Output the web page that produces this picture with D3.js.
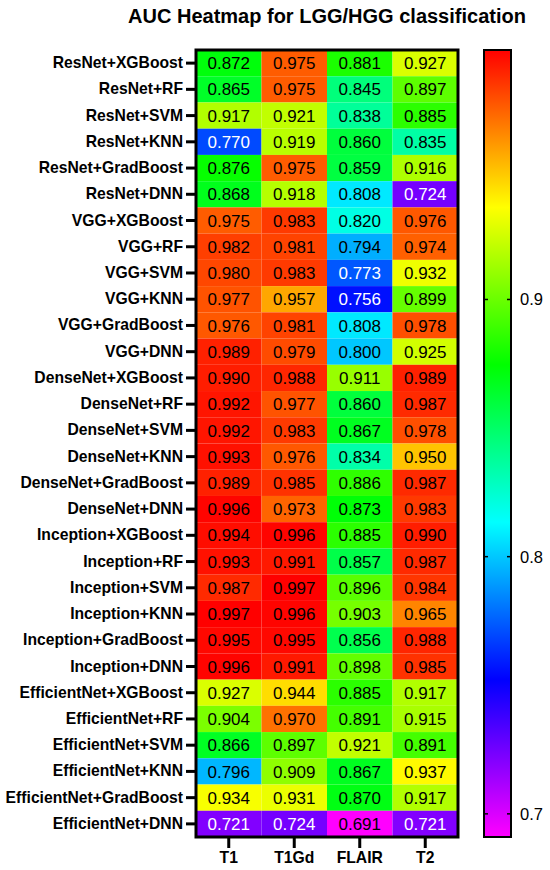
<!DOCTYPE html>
<html lang="en">
  <head>
    <meta charset="UTF-8" />
    <title>AUC Heatmap for LGG/HGG classification</title>
    <script src="https://d3js.org/d3.v7.min.js"></script>
    <style>
      body {
        margin: 0;
        background: #fff;
        font-family: "Liberation Sans", Arial, sans-serif;
      }
    </style>
  </head>
  <body>
    <div id="chart"></div>
    <script>
      // row and column labels
      const models = [
        "ResNet+XGBoost", "ResNet+RF", "ResNet+SVM", "ResNet+KNN", "ResNet+GradBoost", "ResNet+DNN",
        "VGG+XGBoost", "VGG+RF", "VGG+SVM", "VGG+KNN", "VGG+GradBoost", "VGG+DNN",
        "DenseNet+XGBoost", "DenseNet+RF", "DenseNet+SVM", "DenseNet+KNN", "DenseNet+GradBoost", "DenseNet+DNN",
        "Inception+XGBoost", "Inception+RF", "Inception+SVM", "Inception+KNN", "Inception+GradBoost", "Inception+DNN",
        "EfficientNet+XGBoost", "EfficientNet+RF", "EfficientNet+SVM", "EfficientNet+KNN", "EfficientNet+GradBoost", "EfficientNet+DNN"
      ];
      const sequences = ["T1", "T1Gd", "FLAIR", "T2"];

      // AUC per sequence, in the same order as models
      const aucT1 = [
        0.872, 0.865, 0.917, 0.770, 0.876, 0.868,
        0.975, 0.982, 0.980, 0.977, 0.976, 0.989,
        0.990, 0.992, 0.992, 0.993, 0.989, 0.996,
        0.994, 0.993, 0.987, 0.997, 0.995, 0.996,
        0.927, 0.904, 0.866, 0.796, 0.934, 0.721
      ];
      const aucT1Gd = [
        0.975, 0.975, 0.921, 0.919, 0.975, 0.918,
        0.983, 0.981, 0.983, 0.957, 0.981, 0.979,
        0.988, 0.977, 0.983, 0.976, 0.985, 0.973,
        0.996, 0.991, 0.997, 0.996, 0.995, 0.991,
        0.944, 0.970, 0.897, 0.909, 0.931, 0.724
      ];
      const aucFlair = [
        0.881, 0.845, 0.838, 0.860, 0.859, 0.808,
        0.820, 0.794, 0.773, 0.756, 0.808, 0.800,
        0.911, 0.860, 0.867, 0.834, 0.886, 0.873,
        0.885, 0.857, 0.896, 0.903, 0.856, 0.898,
        0.885, 0.891, 0.921, 0.867, 0.870, 0.691
      ];
      const aucT2 = [
        0.927, 0.897, 0.885, 0.835, 0.916, 0.724,
        0.976, 0.974, 0.932, 0.899, 0.978, 0.925,
        0.989, 0.987, 0.978, 0.950, 0.987, 0.983,
        0.990, 0.987, 0.984, 0.965, 0.988, 0.985,
        0.917, 0.915, 0.891, 0.937, 0.917, 0.721
      ];
      const colorTicks = [0.7, 0.8, 0.9];
      const palette = ["#ff00ff", "#0000ff", "#00ffff", "#00ff00", "#ffff00", "#ff0000"];

      const columns = [aucT1, aucT1Gd, aucFlair, aucT2];
      const cells = [];
      columns.forEach((col, j) => {
        col.forEach((v, i) => {
          cells.push({ model: models[i], seq: sequences[j], value: v });
        });
      });

      const width = 550;
      const height = 870;
      const plot = { left: 196, right: 458, top: 50, bottom: 837 };
      const bar = { left: 484, right: 511 };

      const svg = d3
        .select("#chart")
        .append("svg")
        .attr("width", width)
        .attr("height", height);

      const x = d3.scaleBand().domain(sequences).range([plot.left, plot.right]);
      const y = d3.scaleBand().domain(models).range([plot.top, plot.bottom]);

      const vmin = d3.min(cells, (d) => d.value);
      const vmax = d3.max(cells, (d) => d.value);
      const stops = palette.map((c, i) => vmin + (i * (vmax - vmin)) / (palette.length - 1));
      const color = d3.scaleLinear().domain(stops).range(palette).interpolate(d3.interpolateRgb);

      // white text only on the dark violet / blue cells
      function textColor(v) {
        const c = d3.rgb(color(v));
        const lin = (u) => {
          u /= 255;
          return u <= 0.03928 ? u / 12.92 : Math.pow((u + 0.055) / 1.055, 2.4);
        };
        const lum = 0.2126 * lin(c.r) + 0.7152 * lin(c.g) + 0.0722 * lin(c.b);
        return lum < 0.2 ? "#fff" : "#000";
      }

      // title
      svg
        .append("text")
        .attr("x", 327)
        .attr("y", 23)
        .attr("text-anchor", "middle")
        .attr("font-size", 20)
        .attr("font-weight", "bold")
        .text("AUC Heatmap for LGG/HGG classification");

      // cells
      const g = svg.append("g");
      g.selectAll("rect")
        .data(cells)
        .join("rect")
        .attr("x", (d) => x(d.seq))
        .attr("y", (d) => y(d.model))
        .attr("width", x.bandwidth())
        .attr("height", y.bandwidth())
        .attr("fill", (d) => color(d.value));

      g.selectAll("text")
        .data(cells)
        .join("text")
        .attr("x", (d) => x(d.seq) + x.bandwidth() / 2)
        .attr("y", (d) => y(d.model) + y.bandwidth() / 2)
        .attr("dy", "0.36em")
        .attr("text-anchor", "middle")
        .attr("font-size", 17)
        .attr("fill", (d) => textColor(d.value))
        .text((d) => d3.format(".3f")(d.value));

      // axes
      const yAxis = svg
        .append("g")
        .attr("transform", `translate(${plot.left},0)`)
        .call(d3.axisLeft(y).tickSize(10).tickPadding(3));
      const xAxis = svg
        .append("g")
        .attr("transform", `translate(0,${plot.bottom})`)
        .call(d3.axisBottom(x).tickSize(11).tickPadding(4));
      [yAxis, xAxis].forEach((a) => {
        a.select(".domain").remove();
        a.selectAll(".tick line").attr("stroke", "#000").attr("stroke-width", 3);
        a.selectAll(".tick text")
          .attr("font-family", "'Liberation Sans', Arial, sans-serif")
          .attr("font-weight", "bold")
          .attr("font-size", 15.7)
          .attr("fill", "#000");
      });

      svg
        .append("rect")
        .attr("x", plot.left)
        .attr("y", plot.top)
        .attr("width", plot.right - plot.left)
        .attr("height", plot.bottom - plot.top)
        .attr("fill", "none")
        .attr("stroke", "#000")
        .attr("stroke-width", 3);

      // colour bar
      const cy = d3.scaleLinear().domain([vmin, vmax]).range([plot.bottom, plot.top]);
      const grad = svg
        .append("defs")
        .append("linearGradient")
        .attr("id", "cbar")
        .attr("x1", 0)
        .attr("y1", 1)
        .attr("x2", 0)
        .attr("y2", 0);
      grad
        .selectAll("stop")
        .data(stops)
        .join("stop")
        .attr("offset", (d) => (d - vmin) / (vmax - vmin))
        .attr("stop-color", (d) => color(d));

      svg
        .append("rect")
        .attr("x", bar.left)
        .attr("y", plot.top)
        .attr("width", bar.right - bar.left)
        .attr("height", plot.bottom - plot.top)
        .attr("fill", "url(#cbar)")
        .attr("stroke", "#000")
        .attr("stroke-width", 2);

      const ct = svg.append("g");
      colorTicks.forEach((t) => {
        ct.append("line")
          .attr("x1", bar.left)
          .attr("x2", bar.left + 4)
          .attr("y1", cy(t))
          .attr("y2", cy(t))
          .attr("stroke", "#000")
          .attr("stroke-width", 1.5);
        ct.append("line")
          .attr("x1", bar.right - 4)
          .attr("x2", bar.right)
          .attr("y1", cy(t))
          .attr("y2", cy(t))
          .attr("stroke", "#000")
          .attr("stroke-width", 1.5);
        ct.append("text")
          .attr("x", bar.right + 9)
          .attr("y", cy(t))
          .attr("dy", "0.36em")
          .attr("font-size", 16.5)
          .text(t.toFixed(1));
      });
    </script>
  </body>
</html>
